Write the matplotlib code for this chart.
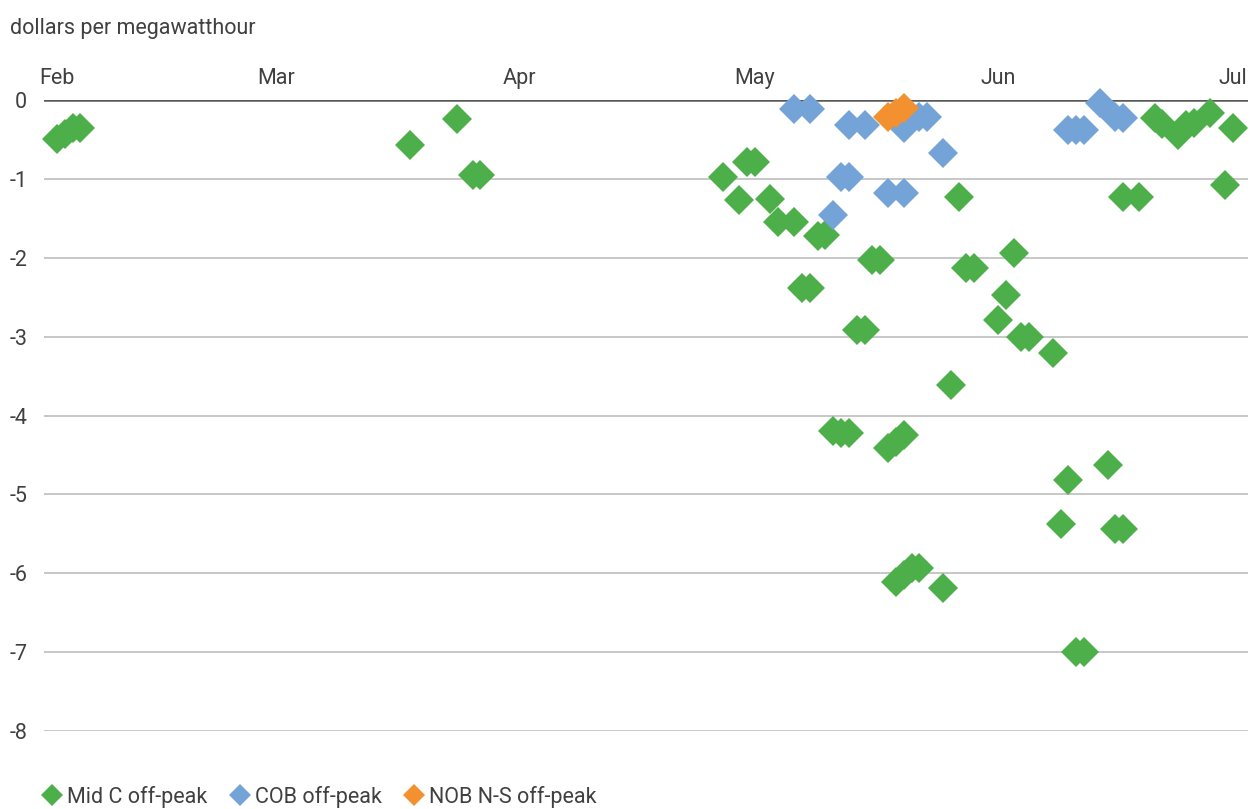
import matplotlib.pyplot as plt
from matplotlib.lines import Line2D
import pandas as pd

plt.rcParams['font.family'] = ['Roboto', 'DejaVu Sans']

# days counted from Feb 1 (non-leap year), value in $/MWh
start = pd.Timestamp('2021-02-01')

midc_day = [0, 1, 2, 3, 45, 51, 53, 54, 85, 87, 88, 89, 91, 92, 94, 95, 96, 97, 98,
            99, 100, 101, 102, 103, 104, 105, 106, 107, 108, 107, 108, 109, 110, 113,
            114, 115, 116, 117, 120, 121, 122, 123, 124, 127, 128, 129, 130, 131, 134,
            135, 136, 136, 138, 140, 141, 143, 144, 145, 147, 149, 150]
midc_val = [-0.50, -0.43, -0.36, -0.35, -0.57, -0.24, -0.95, -0.95, -0.98, -1.27, -0.78,
            -0.78, -1.25, -1.55, -1.55, -2.38, -2.38, -1.73, -1.71, -4.20, -4.22, -4.22,
            -2.92, -2.92, -2.03, -2.03, -4.41, -4.33, -4.25, -6.11, -6.02, -5.93, -5.93,
            -6.19, -3.61, -1.23, -2.13, -2.13, -2.79, -2.47, -1.94, -3.00, -3.00, -3.21,
            -5.37, -4.82, -7.00, -7.00, -4.63, -5.44, -5.44, -1.23, -1.23, -0.23, -0.31,
            -0.44, -0.32, -0.29, -0.17, -1.08, -0.36]

cob_day = [94, 96, 99, 100, 101, 101, 103, 106, 108, 108, 110, 111, 113, 129, 130, 131,
           133, 135, 136]
cob_val = [-0.12, -0.12, -1.46, -0.97, -0.97, -0.32, -0.32, -1.18, -1.18, -0.35, -0.22,
           -0.22, -0.67, -0.38, -0.38, -0.38, -0.04, -0.21, -0.23]

nob_day = [106, 107, 108]
nob_val = [-0.22, -0.16, -0.10]

months = ['Feb', 'Mar', 'Apr', 'May', 'Jun', 'Jul']

green = '#4daf4a'
blue = '#74a3d7'
orange = '#f39130'
txt = '#404040'


def to_dates(days):
    return [start + pd.Timedelta(days=d) for d in days]


fig = plt.figure(figsize=(12.56, 8.09), dpi=100)
ax = fig.add_axes([0.035, 0.0964, 0.9586, 0.78])

ms = 15.3
for days, vals, col in [(midc_day, midc_val, green), (cob_day, cob_val, blue),
                        (nob_day, nob_val, orange)]:
    ax.plot(to_dates(days), vals, linestyle='none', marker='D', markersize=ms,
            markerfacecolor=col, markeredgewidth=0, clip_on=False, zorder=3)

ax.set_ylim(-8, 0)
ax.set_xlim(start - pd.Timedelta(days=1.66), start + pd.Timedelta(days=151.9))

# gridlines
for v in range(-8, 0):
    ax.axhline(v, color='#bdbdbd', linewidth=1.2, zorder=1)
ax.axhline(0, color='#595959', linewidth=1.8, zorder=2)

for s in ax.spines.values():
    s.set_visible(False)

fs = 15.5
ax.set_yticks(range(-8, 1))
ax.set_yticklabels([str(v) for v in range(-8, 1)])
ax.tick_params(axis='y', length=0, pad=12, labelsize=fs, labelcolor=txt)

month_pos = [pd.Timestamp(f'2021-{m:02d}-01') for m in range(2, 8)]
ax.xaxis.tick_top()
ax.set_xticks(month_pos)
ax.set_xticklabels(months)
ax.tick_params(axis='x', length=0, pad=8, labelsize=fs, labelcolor=txt)

fig.text(0.008, 0.965, 'dollars per megawatthour', fontsize=fs, color=txt,
         ha='left', va='center')

handles = [Line2D([], [], linestyle='none', marker='D', markersize=11, markeredgewidth=0,
                  markerfacecolor=c) for c in (green, blue, orange)]
fig.legend(handles, ['Mid C off-peak', 'COB off-peak', 'NOB N-S off-peak'],
           loc='center left', bbox_to_anchor=(0.016, 0.015), ncol=3, frameon=False,
           fontsize=fs, labelcolor=txt, handletextpad=0.1, columnspacing=0.9,
           handlelength=1.2)

fig.savefig('out.png', dpi=100)
